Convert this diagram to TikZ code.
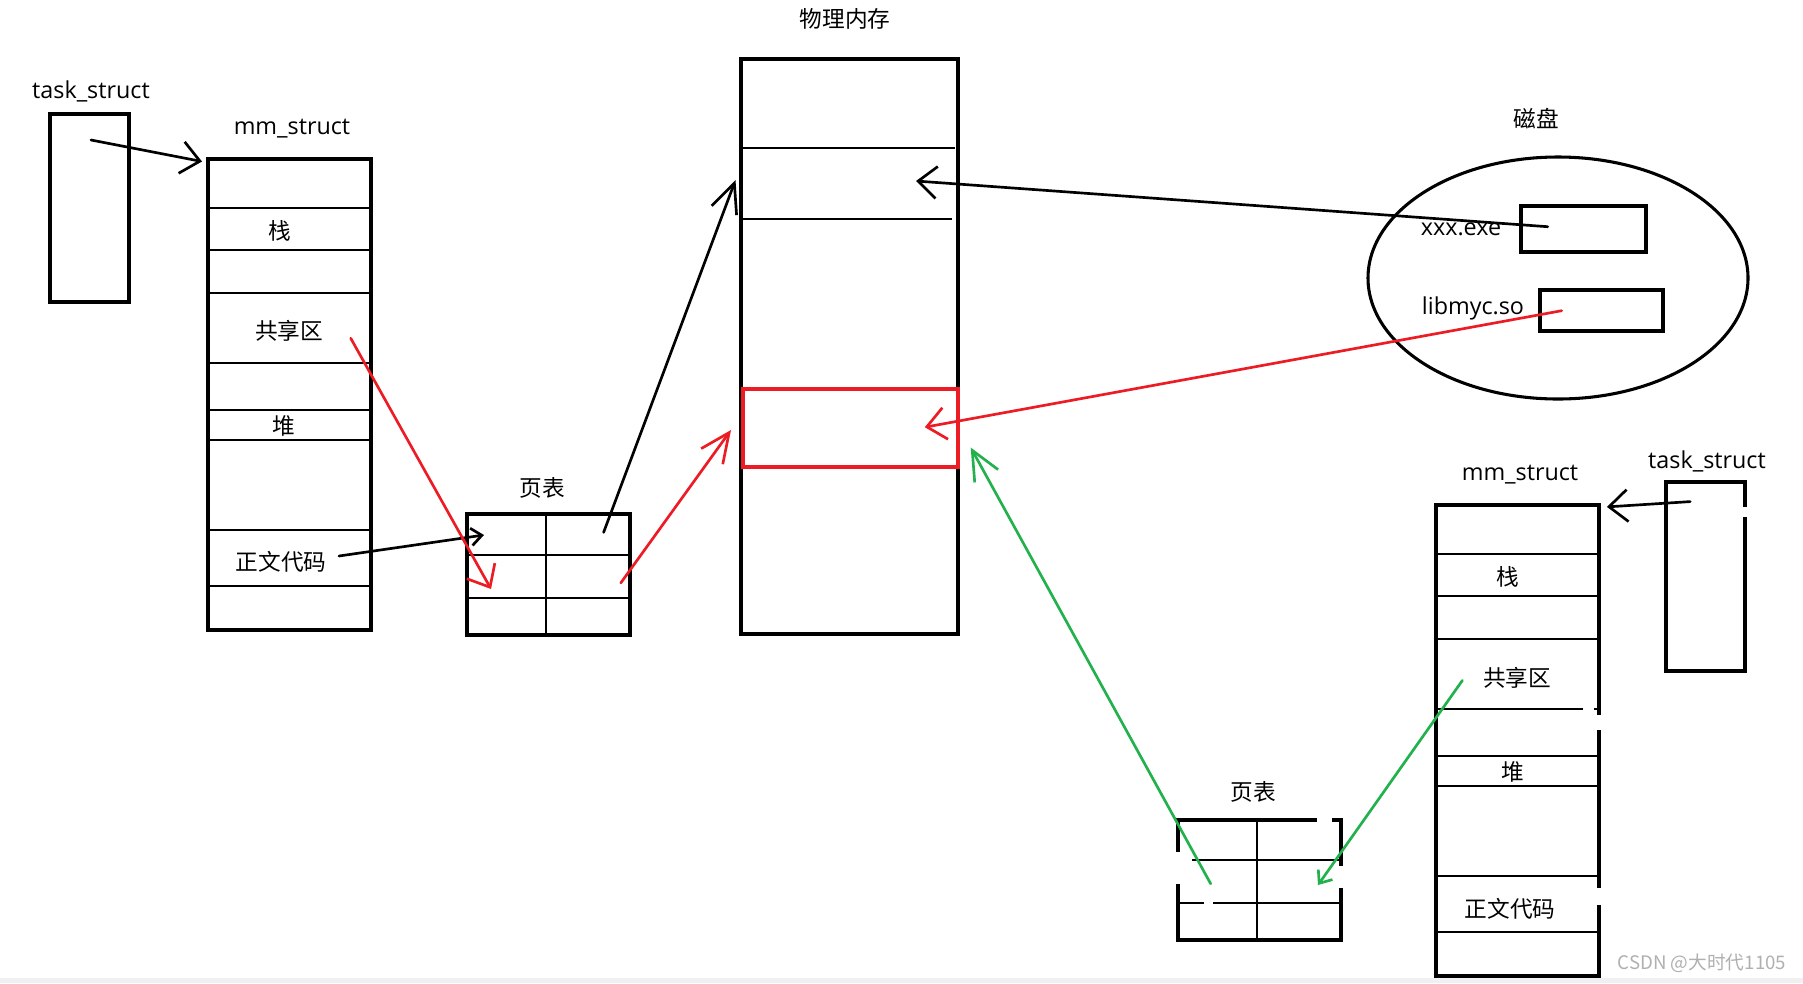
\documentclass[tikz,border=0pt]{standalone}
\usepackage{fontspec}
\setmainfont{Open Sans}
\newfontfamily\cjk{Noto Sans CJK SC}
\usetikzlibrary{arrows.meta,fit,shapes.geometric}
\definecolor{pred}{HTML}{ED1C24}
\definecolor{pgreen}{HTML}{22B14C}
\definecolor{wmgray}{HTML}{B0B0B0}
\definecolor{barg}{HTML}{F0F0F0}
\tikzset{
  box/.style={draw=black, line width=2.5pt, inner sep=0pt},
  sep/.style={draw=black, line width=1.6pt},
  lbl/.style={font=\fontsize{17.5}{20}\selectfont, inner sep=0pt},
  clbl/.style={font=\cjk\fontsize{17}{20}\selectfont, inner sep=0pt},
  link/.style={line width=2pt, line cap=round, line join=round},
  tipS/.style={-{Straight Barb[length=8pt,width=13pt]}},
  tipM/.style={-{Straight Barb[length=14pt,width=24pt]}},
  tipL/.style={-{Straight Barb[length=22pt,width=20pt]}},
  eraser/.style={fill=white, draw=none}
}
\begin{document}
\begin{tikzpicture}[x=0.75pt, y=-0.75pt]
\useasboundingbox (0,0) rectangle (1803,983);
\fill[white] (0,0) rectangle (1803,983);
\fill[barg] (0,978) rectangle (1803,983);

% ---------- left task_struct ----------
\coordinate (tsL-a) at (50,114); \coordinate (tsL-b) at (129,302);
\node[box, fit=(tsL-a)(tsL-b)] (tsL) {};
\node[lbl] (tsL-t) at (91,91) {task\_struct};

% ---------- left mm_struct ----------
\coordinate (mmL-a) at (208,159); \coordinate (mmL-b) at (371,630);
\node[box, fit=(mmL-a)(mmL-b)] (mmL) {};
\foreach \y in {208,250,293,363,410,440,530,586}
  \draw[sep] (208,\y) -- (372,\y);
\node[lbl] (mmL-t) at (292,129) {mm\_struct};
\node[clbl] (mmL-stack) at (280,231) {栈};
\node[clbl] (mmL-shm) at (289,331) {共享区};
\node[clbl] (mmL-heap) at (284,426) {堆};
\node[clbl] (mmL-text) at (281,562) {正文代码};

% ---------- left page table ----------
\coordinate (ptL-a) at (467,514); \coordinate (ptL-b) at (630,635);
\node[box, fit=(ptL-a)(ptL-b)] (ptL) {};
\draw[sep] (546,514) -- (546,635);
\draw[sep] (466,555) -- (631,555);
\draw[sep] (467,598) -- (630,598);
\node[clbl] (ptL-t) at (542,488) {页表};

% ---------- physical memory ----------
\coordinate (mem-a) at (741,59); \coordinate (mem-b) at (958,634);
\node[box, fit=(mem-a)(mem-b)] (mem) {};
\draw[sep] (742,148) -- (955,148);
\draw[sep] (742,219) -- (952,219);
\coordinate (red-a) at (743,389); \coordinate (red-b) at (958,467);
\node[box, draw=pred, fit=(red-a)(red-b)] (redbox) {};
\node[clbl] (mem-t) at (845,19) {物理内存};

% ---------- disk ----------
\node[draw, ellipse, line width=2.3pt, inner sep=0pt,
      minimum width=285pt, minimum height=181.5pt] (disk) at (1558,278) {};
\node[clbl] (disk-t) at (1536,119) {磁盘};
\coordinate (exe-a) at (1521,206); \coordinate (exe-b) at (1646,252);
\node[box, fit=(exe-a)(exe-b)] (exebox) {};
\coordinate (so-a) at (1540,290); \coordinate (so-b) at (1663,331);
\node[box, fit=(so-a)(so-b)] (sobox) {};
\node[lbl] (exe-t) at (1461,229) {xxx.exe};
\node[lbl] (so-t) at (1473,308) {libmyc.so};

% ---------- right mm_struct ----------
\coordinate (mmR-a) at (1436,505); \coordinate (mmR-b) at (1599,976);
\node[box, fit=(mmR-a)(mmR-b)] (mmR) {};
\foreach \y in {554,596,639,709,756,786,876,932}
  \draw[sep] (1435,\y) -- (1601,\y);
\node[lbl] (mmR-t) at (1520,475) {mm\_struct};
\node[clbl] (mmR-stack) at (1508,577) {栈};
\node[clbl] (mmR-shm) at (1517,678) {共享区};
\node[clbl] (mmR-heap) at (1513,772) {堆};
\node[clbl] (mmR-text) at (1510,909) {正文代码};

% ---------- right task_struct ----------
\coordinate (tsR-a) at (1666,482); \coordinate (tsR-b) at (1745,671);
\node[box, fit=(tsR-a)(tsR-b)] (tsR) {};
\node[lbl] (tsR-t) at (1707,461) {task\_struct};

% ---------- right page table ----------
\coordinate (ptR-a) at (1178,820); \coordinate (ptR-b) at (1341,940);
\node[box, fit=(ptR-a)(ptR-b)] (ptR) {};
\draw[sep] (1257,820) -- (1257,940);
\draw[sep] (1178,860) -- (1341,860);
\draw[sep] (1178,903) -- (1341,903);
\node[clbl] (ptR-t) at (1253,792) {页表};

% ---------- eraser gaps ----------
\fill[eraser] (1741,507) rectangle (1749,517);
\fill[eraser] (1595,715) rectangle (1603,730);
\fill[eraser] (1595,888) rectangle (1603,905);
\fill[eraser] (1583,706) rectangle (1594,713);
\fill[eraser] (1317,816) rectangle (1332,824);
\fill[eraser] (1174,852) rectangle (1182,884);
\fill[eraser] (1180,856) rectangle (1192,864);
\fill[eraser] (1204,899) rectangle (1213,907);
\fill[eraser] (1337,866) rectangle (1345,888);

% ---------- connectors ----------
\coordinate (c1s) at (91,140);     \coordinate (c1e) at (202,161.5);
\coordinate (c2s) at (339,556);    \coordinate (c2e) at (484,535);
\coordinate (c3s) at (603.6,532.4);\coordinate (c3e) at (735.5,180);
\coordinate (c4s) at (350.7,338.2);\coordinate (c4e) at (491,589);
\coordinate (c5s) at (620.8,582.9);\coordinate (c5e) at (731,430);
\coordinate (c6s) at (1547.7,226.7);\coordinate (c6e) at (916,181);
\coordinate (c7s) at (1561.7,310.7);\coordinate (c7e) at (924.8,427.2);
\coordinate (c8s) at (1210.7,883.8);\coordinate (c8e) at (970.7,447.5);
\coordinate (c9s) at (1462.4,680.4);\coordinate (c9e) at (1318,885);
\coordinate (c10s) at (1690.2,501.6);\coordinate (c10e) at (1606.9,506.9);

\draw[link, tipM] (c1s) -- (c1e);
\draw[link, tipS] (c2s) -- (c2e);
\draw[link, tipL] (c3s) -- (c3e);
\draw[link, pred, tipM] (c4s) -- (c4e);
\draw[link, pred, tipL] (c5s) -- (c5e);
\draw[link, tipM] (c6s) -- (c6e);
\draw[link, pred, tipM] (c7s) -- (c7e);
\draw[link, pgreen, tipL] (c8s) -- (c8e);
\draw[link, pgreen, tipS] (c9s) -- (c9e);
\draw[link, tipM] (c10s) -- (c10e);

% ---------- watermark ----------
\node[font=\cjk\fontsize{14}{16}\selectfont, text=wmgray, inner sep=0pt] (wm) at (1702,963) {CSDN @大时代1105};
\end{tikzpicture}
\end{document}
